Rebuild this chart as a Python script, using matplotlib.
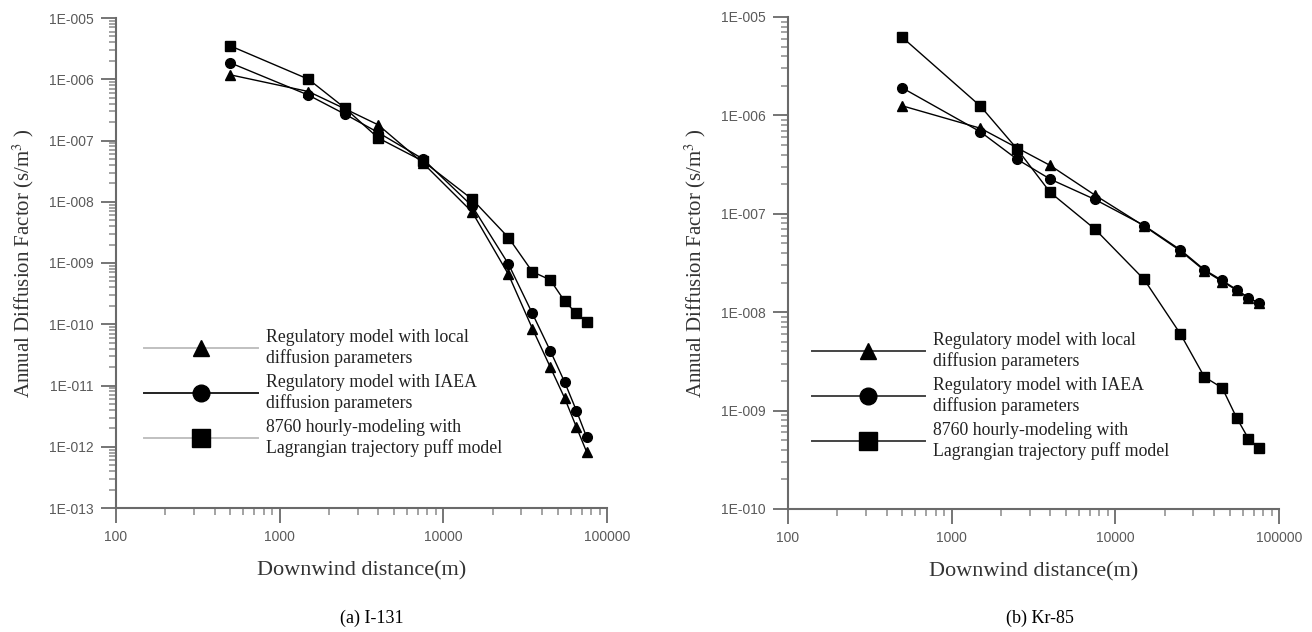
import numpy as np
import matplotlib
matplotlib.use("Agg")
import matplotlib.pyplot as plt
from matplotlib.lines import Line2D
from matplotlib.ticker import LogLocator, FuncFormatter, NullFormatter

plt.rcParams["mathtext.fontset"] = "stix"

# downwind distances (m)
dist = [500, 1500, 2500, 4000, 7500, 15000, 25000, 35000, 45000, 55000, 65000, 75000]

# (a) I-131
i131_local = [1.18e-6, 6.3e-7, 3.3e-7, 1.8e-7, 4.3e-8, 6.8e-9, 6.5e-10, 8.5e-11,
              2.0e-11, 6.3e-12, 2.1e-12, 8.3e-13]
i131_iaea = [1.85e-6, 5.5e-7, 2.7e-7, 1.35e-7, 5.0e-8, 8.5e-9, 9.6e-10, 1.5e-10,
             3.7e-11, 1.15e-11, 3.9e-12, 1.45e-12]
i131_puff = [3.5e-6, 1.0e-6, 3.4e-7, 1.1e-7, 4.6e-8, 1.1e-8, 2.6e-9, 7.2e-10,
             5.3e-10, 2.4e-10, 1.5e-10, 1.1e-10]

# (b) Kr-85
kr85_local = [1.25e-6, 7.4e-7, 4.7e-7, 3.1e-7, 1.55e-7, 7.5e-8, 4.2e-8, 2.65e-8,
              2.05e-8, 1.68e-8, 1.4e-8, 1.24e-8]
kr85_iaea = [1.9e-6, 6.8e-7, 3.6e-7, 2.25e-7, 1.4e-7, 7.6e-8, 4.3e-8, 2.7e-8,
             2.1e-8, 1.7e-8, 1.4e-8, 1.25e-8]
kr85_puff = [6.2e-6, 1.24e-6, 4.6e-7, 1.65e-7, 7.0e-8, 2.15e-8, 6.0e-9, 2.2e-9,
             1.7e-9, 8.5e-10, 5.2e-10, 4.2e-10]

labels = ["Regulatory model with local\ndiffusion parameters",
          "Regulatory model with IAEA\ndiffusion parameters",
          "8760 hourly-modeling with\nLagrangian trajectory puff model"]
captions = ["(a) I-131", "(b) Kr-85"]

serif = "Liberation Serif"
sans = "Liberation Sans"
axcol = "#6a6a6a"

fig = plt.figure(figsize=(13.12, 6.32), dpi=100)
ax1 = fig.add_axes([116 / 1312, 1 - 508 / 632, 491 / 1312, 490 / 632])
ax2 = fig.add_axes([788 / 1312, 1 - 509 / 632, 491 / 1312, 492 / 632])


def setup(ax, ylim, leg_cols, leg_anchor):
    ax.set_xscale("log")
    ax.set_yscale("log")
    ax.set_xlim(100, 100000)
    ax.set_ylim(*ylim)
    for s in ["top", "right"]:
        ax.spines[s].set_visible(False)
    for s in ["left", "bottom"]:
        ax.spines[s].set_color(axcol)
        ax.spines[s].set_linewidth(1.5)
    ax.xaxis.set_major_locator(LogLocator(base=10, numticks=10))
    ax.xaxis.set_minor_locator(LogLocator(base=10, subs=np.arange(2, 10), numticks=20))
    ax.yaxis.set_major_locator(LogLocator(base=10, numticks=20))
    ax.yaxis.set_minor_locator(LogLocator(base=10, subs=np.arange(2, 10), numticks=40))
    ax.xaxis.set_major_formatter(FuncFormatter(lambda v, p: "%d" % round(v)))
    ax.yaxis.set_major_formatter(
        FuncFormatter(lambda v, p: "1E-%03d" % -round(np.log10(v))))
    ax.xaxis.set_minor_formatter(NullFormatter())
    ax.yaxis.set_minor_formatter(NullFormatter())
    ax.tick_params(which="major", length=11, width=1.3, color=axcol,
                   labelcolor="#5a5a5a", labelsize=10, pad=5)
    ax.tick_params(which="minor", length=5, width=1.1, color="#8a8a8a")
    for t in ax.get_xticklabels() + ax.get_yticklabels():
        t.set_family(sans)
    ax.set_xlabel("Downwind distance(m)", family=serif, fontsize=16, color="#333333")
    ax.set_ylabel("Annual Diffusion Factor (s/m$^3$ )", family=serif, fontsize=15,
                  color="#333333")
    ax.xaxis.set_label_coords(0.5, -0.108)
    ax.yaxis.set_label_coords(-0.163, 0.5)

    handles = [
        Line2D([], [], color=leg_cols[0], lw=1.4, marker="^", ms=12, mfc="black", mec="black"),
        Line2D([], [], color=leg_cols[1], lw=1.4, marker="o", ms=12, mfc="black", mec="black"),
        Line2D([], [], color=leg_cols[2], lw=1.4, marker="s", ms=13, mfc="black", mec="black"),
    ]
    leg = ax.legend(handles, labels, loc="upper left", bbox_to_anchor=leg_anchor,
                    frameon=False, numpoints=1, handlelength=6.4, handletextpad=0.42,
                    labelspacing=0.42, borderpad=0, borderaxespad=0,
                    prop={"family": serif, "size": 12.8})
    for t in leg.get_texts():
        t.set_color("#222222")


def draw(ax, local, iaea, puff):
    ax.plot(dist, local, color="black", lw=1.0, marker="^", ms=6.5)
    ax.plot(dist, iaea, color="black", lw=1.0, marker="o", ms=7)
    ax.plot(dist, puff, color="black", lw=1.0, marker="s", ms=7.5)


draw(ax1, i131_local, i131_iaea, i131_puff)
draw(ax2, kr85_local, kr85_iaea, kr85_puff)
setup(ax1, (1e-13, 1e-5), ["#c0c0c0", "#222222", "#c0c0c0"], (0.058, 0.365))
setup(ax2, (1e-10, 1e-5), ["#444444", "#444444", "#444444"], (0.048, 0.36))

fig.text(372 / 1312, 1 - 618 / 632, captions[0], ha="center", va="center",
         family=serif, fontsize=13)
fig.text(1040 / 1312, 1 - 618 / 632, captions[1], ha="center", va="center",
         family=serif, fontsize=13)

fig.savefig("out.png", dpi=100)
